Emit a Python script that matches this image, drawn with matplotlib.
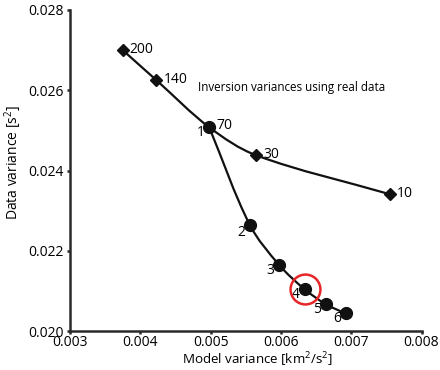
import numpy as np
import matplotlib
matplotlib.use("Agg")
import matplotlib.pyplot as plt
from matplotlib.path import Path
from matplotlib.patches import PathPatch

plt.rcParams['font.family'] = ['Open Sans', 'DejaVu Sans']
plt.rcParams['mathtext.fontset'] = 'custom'
plt.rcParams['mathtext.rm'] = 'Open Sans'
plt.rcParams['mathtext.it'] = 'Open Sans'

# damping series (diamonds), labelled by lambda
damp_x = [0.00375, 0.00423, 0.00498, 0.00565, 0.00755]
damp_y = [0.02700, 0.02625, 0.02508, 0.02438, 0.02341]
damp_lab = ['200', '140', '70', '30', '10']

# iteration series (circles)
iter_x = [0.00498, 0.00556, 0.00598, 0.00634, 0.00664, 0.00692]
iter_y = [0.02508, 0.02264, 0.02164, 0.02104, 0.02067, 0.02044]
iter_lab = ['1', '2', '3', '4', '5', '6']
chosen = 3  # iteration 4 is circled

xticks = [0.003, 0.004, 0.005, 0.006, 0.007, 0.008]
yticks = [0.020, 0.022, 0.024, 0.026, 0.028]

XSPAN, YSPAN = 0.005 / 352.0, 0.008 / 321.0  # data units per pixel


def smooth_path(xs, ys):
    # smooth curve through the points: bezier segments, tangents from neighbours
    p = np.column_stack([np.array(xs) / XSPAN, np.array(ys) / YSPAN])
    n = len(p)
    tang = []
    for i in range(n):
        a = p[max(i - 1, 0)]
        b = p[min(i + 1, n - 1)]
        d = b - a
        tang.append(d / np.linalg.norm(d))
    verts = [p[0]]
    codes = [Path.MOVETO]
    for i in range(n - 1):
        L = np.linalg.norm(p[i + 1] - p[i]) / 3.0
        verts += [p[i] + tang[i] * L, p[i + 1] - tang[i + 1] * L, p[i + 1]]
        codes += [Path.CURVE4] * 3
    verts = np.array(verts) * [XSPAN, YSPAN]
    return Path(verts, codes)


fig = plt.figure(figsize=(4.4, 3.7), dpi=100)
ax = fig.add_axes([0.159, 0.105, 0.799, 0.868])

for xs, ys in [(damp_x, damp_y), (iter_x, iter_y)]:
    ax.add_patch(PathPatch(smooth_path(xs, ys), fill=False, color='#111111', lw=1.6, zorder=2))

ax.plot(damp_x, damp_y, ls='none', marker='D', ms=6, color='#111111', zorder=3)
ax.plot(iter_x, iter_y, ls='none', marker='o', ms=8.5, color='#111111', zorder=3)
ax.plot(iter_x[chosen], iter_y[chosen], ls='none', marker='o', ms=21.5, mfc='none',
        mec='#e8262a', mew=1.8, zorder=4)

for x, y, s in zip(damp_x, damp_y, damp_lab):
    dy = 1.5 if s == '70' else 0.5
    ax.annotate(s, (x, y), xytext=(5, dy), textcoords='offset points',
                ha='left', va='center', fontsize=10)
for x, y, s in zip(iter_x, iter_y, iter_lab):
    dy = -5.5 if s == '2' else -3.5
    ax.annotate(s, (x, y), xytext=(-3.5, dy), textcoords='offset points',
                ha='right', va='center', fontsize=10)

ax.text(0.00482, 0.02608, 'Inversion variances using real data', fontsize=8.4, va='center')

ax.set_xlim(0.003, 0.008)
ax.set_ylim(0.020, 0.028)
ax.set_xticks(xticks)
ax.set_yticks(yticks)
ax.set_xticklabels(['%.3f' % v for v in xticks])
ax.set_yticklabels(['%.3f' % v for v in yticks])

for side in ['top', 'right']:
    ax.spines[side].set_visible(False)
for side in ['left', 'bottom']:
    ax.spines[side].set_linewidth(1.8)
    ax.spines[side].set_color('#2a2a2a')
ax.tick_params(direction='out', length=2.5, width=1.8, color='#2a2a2a', labelsize=10)
ax.tick_params(axis='x', pad=0)
ax.tick_params(axis='y', pad=2)

ax.set_xlabel('Model variance [km$^{\\mathregular{2}}$/s$^{\\mathregular{2}}$]', fontsize=9.6)
ax.xaxis.set_label_coords(0.534, -0.06)
ax.set_ylabel('Data variance [s$^{\\mathregular{2}}$]', fontsize=10)
ax.yaxis.set_label_coords(-0.13, 0.526)

fig.savefig('out.png', dpi=100)
